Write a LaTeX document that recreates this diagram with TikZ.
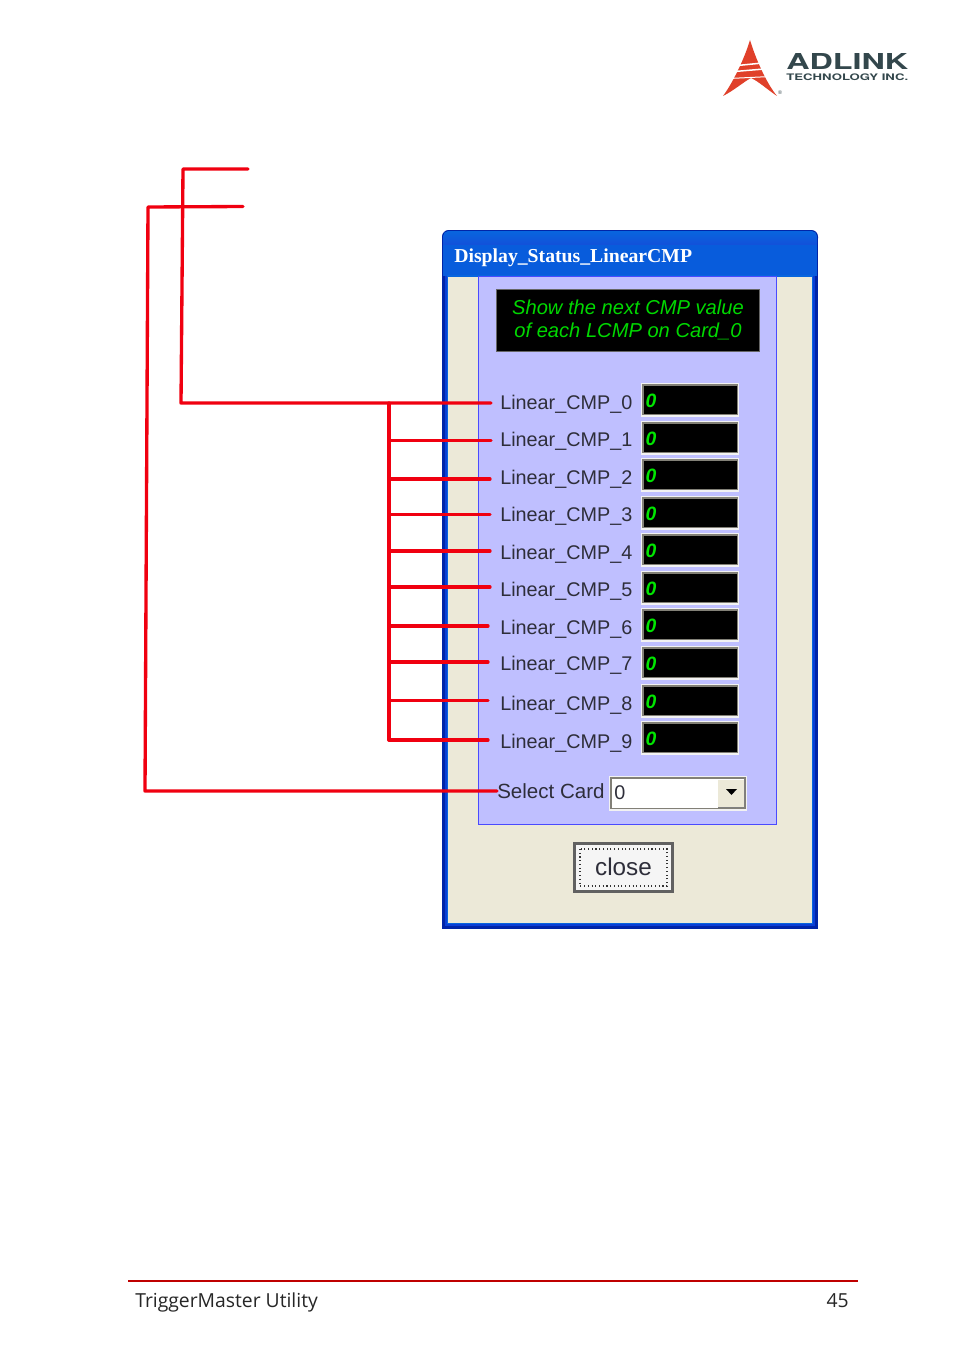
\documentclass[tikz,border=0pt]{standalone}
\usepackage{fontspec}
\usepackage{graphicx}
\setmainfont{Liberation Sans}
\newfontfamily\titlefont{Liberation Serif}
\newfontfamily\footfont{Open Sans}
\newfontfamily\logofont{TeX Gyre Heros}
\definecolor{winblue}{HTML}{0A3FD6}
\definecolor{windark}{HTML}{0025A8}
\definecolor{winface}{HTML}{ECE9D8}
\definecolor{lav}{HTML}{BFBFFF}
\definecolor{lavline}{HTML}{4A4AFF}
\definecolor{redln}{HTML}{F00010}
\definecolor{lcdgreen}{HTML}{00D800}
\definecolor{logodark}{HTML}{33474C}
\definecolor{logored}{HTML}{E0402A}
\definecolor{labeltext}{HTML}{2E2E3A}
\tikzset{
  x=0.75pt,y=-0.75pt,
  redline/.style={draw=redln,line width=2.5pt,line cap=round,line join=round},
  cmplabel/.style={anchor=base west,inner sep=0pt,text=labeltext,font=\fontsize{14.85}{17}\selectfont},
  valtext/.style={anchor=base,inner sep=0pt,text=green!90!black,font=\bfseries\itshape\fontsize{14.5}{16}\selectfont},
  foot/.style={anchor=base west,inner sep=0pt,text=black!85,font=\footfont\fontsize{14.5}{18}\selectfont},
}
\begin{document}
\begin{tikzpicture}
\useasboundingbox[fill=white] (0,0) rectangle (954,1352);

% logo
\fill[logored] (750,40) .. controls (756,60) and (767,84) .. (777,96)
  .. controls (768,90) and (758,81) .. (751,78) .. controls (745,81) and (733,91) .. (723,96)
  .. controls (732,84) and (744,60) .. (750,40) -- cycle;
\fill[white] (735,65) -- (765,62) -- (765.5,63.5) -- (735,66.5) -- cycle;
\fill[white] (732,71) -- (767,68) -- (767.5,69.5) -- (731.5,72.5) -- cycle;
\fill[white] (729,78) -- (771,76) -- (771,77) -- (729,79) -- cycle;
\node[anchor=south west,inner sep=0pt,text=logodark] (logoname) at (786,70)
  {\resizebox{91.5pt}{12pt}{\logofont\bfseries ADLINK}};
\node[anchor=south west,inner sep=0pt,text=logodark] (logosub) at (786,81)
  {\resizebox{91.5pt}{5pt}{\logofont\bfseries TECHNOLOGY INC.}};
\node[anchor=center,inner sep=0pt,text=logodark,font=\fontsize{4}{4}\selectfont] (logoreg) at (780,92.5) {®};

% window
\fill[windark] (442,236) -- (442,929) -- (818,929) -- (818,236) -- cycle;
\fill[windark,rounded corners=5pt] (442,230) -- (818,230) -- (818,245) -- (442,245) -- cycle;
\fill[winblue] (445,240) rectangle (815,926);
\shade[top color=winblue!80!cyan,bottom color=winblue!95!white,rounded corners=4pt] (443,231) -- (817,231) -- (817,250) -- (443,250) -- cycle;
\fill[winblue!85!cyan] (443,245) rectangle (817,276);
\fill[winblue!80!cyan] (447,275) rectangle (813,924);
\fill[winface] (448,277) rectangle (812,922.5);
\node[anchor=base west,inner sep=0pt,text=white,font=\titlefont\bfseries\fontsize{14.8}{17}\selectfont] (wintitle) at (454,262) {Display\_Status\_LinearCMP};

% panel
\path[fill=lav,draw=lavline,line width=0.9pt] (478.5,276.5) rectangle (776.5,824.5);
\node[fill=black,draw=black!60,line width=0.5pt,minimum width=197pt,minimum height=46.5pt,inner sep=0pt] (banner) at (628,320.5) {};
\node[inner sep=0pt,text=lcdgreen,align=center,font=\itshape\fontsize{15.1}{17.25}\selectfont] (bannertext) at (628,320) {Show the next CMP value\\of each LCMP on Card\_0};

% value boxes and labels
\foreach \i/\ytop/\ybase in {0/383/409,1/421/446,2/458/484,3/496/521,4/533/559,5/571/596,6/608/634,7/646/670,8/684/710,9/721/748}{
  \fill[white!95!black] (641,\ytop) rectangle (739,\ytop+34);
  \fill[black!45!winface] (642,\ytop+1) rectangle (737.5,\ytop+32);
  \fill[black] (643.5,\ytop+3) rectangle (736.5,\ytop+31);
  \node[valtext] (val\i) at (651,\ytop+24) {0};
  \node[cmplabel] (lbl\i) at (500,\ybase) {Linear\_CMP\_\i};
}

% combo
\fill[white!95!black] (609,776) rectangle (747,811);
\fill[black!45!winface] (610,776.5) rectangle (745.5,809);
\fill[white] (612,779) rectangle (744,808);
\path[fill=winface] (718,780) rectangle (744,807);
\path[draw=black!50,line width=0.7pt] (718,807) -- (744,807) -- (744,780);
\fill[black] (726,789) -- (737,789) -- (731.5,795) -- cycle;
\node[cmplabel,font=\fontsize{15.4}{17}\selectfont] (selectlbl) at (497,798.5) {Select Card};
\node[cmplabel] (combotext) at (614,799) {0};

% close button
\node[draw=black!62,fill=black!4,line width=2.2pt,minimum width=73.5pt,minimum height=36pt,inner sep=0pt,
  text=labeltext,font=\fontsize{18.2}{20}\selectfont,text height=12pt,text depth=0pt] (closebtn) at (623.5,867.5) {close};
\draw[black!80,line width=0.8pt,dotted] (580,849) rectangle (667,886);

% red connectors
\coordinate (toptip) at (248,169);
\coordinate (topcorner) at (183,169);
\coordinate (topbottom) at (181,403);
\coordinate (midtip) at (243,206.5);
\coordinate (midcorner) at (148,207);
\coordinate (midbottom) at (145,791);
\coordinate (busa) at (389,403);
\coordinate (busb) at (389,740);
\draw[redline] (toptip) -- (topcorner) -- (topbottom) -- ([xshift=-6.75pt]topbottom -| lbl0.west);
\draw[redline] (midtip) -- (midcorner) -- (midbottom) -- (midbottom -| selectlbl.west);
\draw[redline] (busa) -- (busb);
\foreach \i/\yl/\gap in {1/440.5/9,2/479/10,3/514.5/10,4/551/10,5/587/10,6/626/12,7/662/12,8/700.5/12,9/740/12}{
  \coordinate (j\i) at (389,\yl);
  \draw[redline] (j\i) -- ([xshift=-\gap*0.75pt]j\i -| lbl\i.west);
}

% footer
\coordinate (footl) at (128,1281);
\coordinate (footr) at (858,1281);
\draw[draw=black!25!red,line width=1.1pt] (footl) -- (footr);
\node[foot] (foottext) at (135,1307) {TriggerMaster Utility};
\node[foot,anchor=base east] (footpage) at (849,1307) {45};
\end{tikzpicture}
\end{document}
